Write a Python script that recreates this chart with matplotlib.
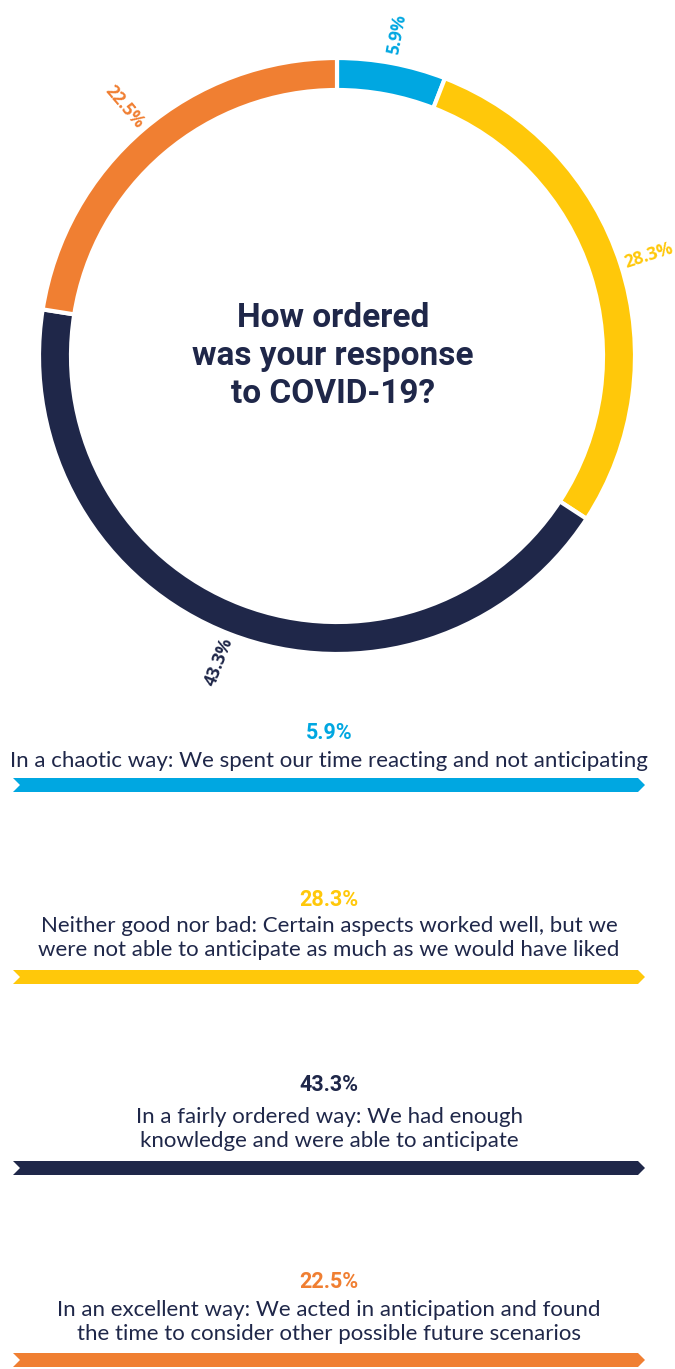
import matplotlib.pyplot as plt
from matplotlib.patches import Polygon
import numpy as np

# Данные
categories = [
    "In a chaotic way: We spent our time reacting and not anticipating",
    "Neither good nor bad: Certain aspects worked well, but we\nwere not able to anticipate as much as we would have liked",
    "In a fairly ordered way: We had enough\nknowledge and were able to anticipate",
    "In an excellent way: We acted in anticipation and found\nthe time to consider other possible future scenarios",
]
values = [5.9, 28.3, 43.3, 22.5]
colors = ['#00A7E1', '#FFC80A', '#1F2749', '#F07F32']
title = "How ordered\nwas your response\nto COVID-19?"

W, H = 675, 1369
NAVY = '#1F2749'

fig = plt.figure(figsize=(W / 100, H / 100), dpi=100)
ax = fig.add_axes([0, 0, 1, 1])

# Кольцевая диаграмма (оси в пикселях, y вверх)
cx, cy, r = 337, H - 356, 298
wedges, _ = ax.pie(values, colors=colors, startangle=90, counterclock=False,
                   radius=r, center=(cx, cy),
                   wedgeprops=dict(width=32, edgecolor='white', linewidth=3))

# Подписи процентов вдоль радиуса
for w, v, c in zip(wedges, values, colors):
    mid = (w.theta1 + w.theta2) / 2
    mid = (mid + 180) % 360 - 180
    k = 1.1
    x = cx + r * k * np.cos(np.radians(mid))
    y = cy + r * k * np.sin(np.radians(mid))
    rot = mid if -90 <= mid <= 90 else mid - 180
    ax.text(x, y, f"{v}%", color=c, fontsize=12.5, fontweight='bold', family='Open Sans',
            rotation=rot, rotation_mode='anchor', ha='center', va='center')

ax.text(cx - 4, cy, title, color=NAVY, fontsize=24, fontweight='bold', family='Roboto',
        ha='center', va='center', linespacing=1.25)

# Нижний блок: процент, описание, стрелка
pct_y = [733, 900, 1085, 1282]
text_y = [761, 938, 1129, 1322]
bar_top = [778, 970, 1161, 1353]
for cat, v, c, py, ty, bt in zip(categories, values, colors, pct_y, text_y, bar_top):
    ax.text(cx - 8, H - py, f"{v}%", color=c, fontsize=15.5, fontweight='bold', family='Roboto',
            ha='center', va='center')
    ax.text(cx - 8, H - ty, cat, color=NAVY, fontsize=16, family='Lato',
            ha='center', va='center', linespacing=1.2)
    top, bot = H - bt, H - bt - 14
    mid = (top + bot) / 2
    ax.add_patch(Polygon([(13, top), (638, top), (645, mid), (638, bot), (13, bot), (20, mid)],
                         closed=True, color=c, lw=0))

ax.set_xlim(0, W)
ax.set_ylim(0, H)
ax.set_aspect('equal')
ax.axis('off')

plt.savefig('out.png', dpi=100)
plt.close()
